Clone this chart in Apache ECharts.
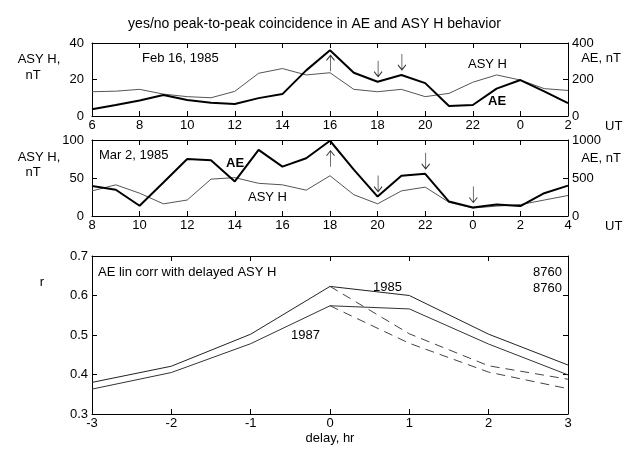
<!DOCTYPE html>
<html>
<head>
<meta charset="utf-8">
<script src="https://cdn.jsdelivr.net/npm/echarts@6/dist/echarts.min.js"></script>
<style>
html, body { margin: 0; padding: 0; background: #fff; }
#chart { width: 629px; height: 454px; }
</style>
</head>
<body>
<div id="chart"></div>
<script>
// Feb 16, 1985 (UT hours, 24.. = next day)
var hoursFeb = [6, 7, 8, 9, 10, 11, 12, 13, 14, 15, 16, 17, 18, 19, 20, 21, 22, 23, 24, 25, 26];
var aeFeb = [37, 60, 85, 115, 88, 73, 66, 98, 120, 250, 360, 237, 188, 225, 180, 55, 60, 150, 197, 135, 70];
var asyFeb = [13.3, 13.6, 14.6, 12, 10.6, 10, 13.5, 23.4, 26, 22.5, 23.7, 14.6, 13.3, 14.6, 10.6, 12.4, 18.5, 22.5, 19.7, 15, 14];
var upFeb = [16];
var downFeb = [18, 19];

// Mar 2, 1985
var hoursMar = [8, 9, 10, 11, 12, 13, 14, 15, 16, 17, 18, 19, 20, 21, 22, 23, 24, 25, 26, 27, 28];
var aeMar = [395, 345, 135, 440, 750, 735, 455, 870, 650, 760, 990, 610, 255, 530, 555, 190, 112, 150, 130, 300, 400];
var asyMar = [33, 41, 30, 16, 21, 48.5, 50.5, 43, 41, 34, 53, 28, 16, 33, 38, 18, 10.5, 13, 15, 21, 27];
var upMar = [18];
var downMar = [20, 22, 24];

// AE lin corr with delayed ASY H
var delays = [-3, -2, -1, 0, 1, 2, 3];
var r1985 = [0.380, 0.421, 0.502, 0.623, 0.600, 0.502, 0.424];
var r1987 = [0.363, 0.405, 0.478, 0.574, 0.566, 0.477, 0.399];
var delaysPos = [0, 1, 2, 3];
var r1985Mirror = [0.623, 0.503, 0.422, 0.388];
var r1987Mirror = [0.574, 0.479, 0.406, 0.364];

var FONT = 'Liberation Sans';

function pairs(xs, ys) {
    return xs.map(function (x, i) { return [x, ys[i]]; });
}
function pick(xs, ys, wanted) {
    return wanted.map(function (h) { return [h, ys[xs.indexOf(h)]]; });
}

var chart = echarts.init(document.getElementById('chart'));

var axisText = { color: '#000', fontFamily: FONT, fontSize: 13 };
var frameLine = { show: true, onZero: false, lineStyle: { color: '#000', width: 1 } };
var inTick = { show: true, inside: true, length: 5, lineStyle: { color: '#000' } };

function bottomX(grid, min, max, interval, fmt) {
    return {
        type: 'value', gridIndex: grid, position: 'bottom', min: min, max: max, interval: interval,
        axisLine: frameLine, axisTick: inTick, splitLine: { show: false },
        axisLabel: Object.assign({ margin: 3, formatter: fmt }, axisText)
    };
}
function topX(grid, min, max, interval) {
    return {
        type: 'value', gridIndex: grid, position: 'top', min: min, max: max, interval: interval,
        axisLine: frameLine, axisTick: inTick, splitLine: { show: false }, axisLabel: { show: false }
    };
}
function sideY(grid, pos, min, max, interval, labels, margin) {
    return {
        type: 'value', gridIndex: grid, position: pos, min: min, max: max, interval: interval,
        axisLine: frameLine, axisTick: inTick, splitLine: { show: false },
        axisLabel: Object.assign({ show: labels, margin: margin, formatter: function (v) { return String(+v.toFixed(2)); } }, axisText)
    };
}

function hourFmt(v) { return String(v % 24); }

// small arrows above/below the AE curve
function arrowSeries(xi, yi, data, dir, gap) {
    var path = dir === 'up'
        ? 'path://M4,16 L4,0 M0,5 L4,0 L8,5'
        : 'path://M4,0 L4,16 M0,11 L4,16 L8,11';
    return {
        type: 'scatter', xAxisIndex: xi, yAxisIndex: yi, data: data,
        symbol: path, symbolSize: [8, 16],
        symbolOffset: [0.5, dir === 'up' ? gap + 8 : -(gap + 8)],
        itemStyle: { color: 'rgba(0,0,0,0)', borderColor: '#000', borderWidth: 1 },
        silent: true, z: 5
    };
}

function txt(x, y, text, align, extra) {
    return {
        type: 'text', silent: true,
        style: Object.assign({
            x: x, y: y, text: text, fill: '#000', font: '13px "' + FONT + '"',
            textAlign: align || 'left', textVerticalAlign: 'middle',
            align: align || 'left', verticalAlign: 'middle'
        }, extra || {})
    };
}

var option = {
    animation: false,
    backgroundColor: '#fff',
    title: {
        text: 'yes/no peak-to-peak coincidence in AE and ASY H behavior',
        left: 'center', top: 12,
        textStyle: { fontFamily: FONT, fontSize: 14, fontWeight: 'normal', color: '#000' }
    },
    grid: [
        { left: 92, right: 61, top: 43, height: 73 },
        { left: 92, right: 61, top: 140, height: 76 },
        { left: 92, right: 61, top: 256, height: 158 }
    ],
    xAxis: [
        bottomX(0, 6, 26, 2, hourFmt),
        topX(0, 6, 26, 2),
        bottomX(1, 8, 28, 2, hourFmt),
        topX(1, 8, 28, 2),
        bottomX(2, -3, 3, 1, null),
        topX(2, -3, 3, 1)
    ],
    yAxis: [
        sideY(0, 'left', 0, 40, 20, true, 8),
        sideY(0, 'right', 0, 400, 200, true, 4),
        sideY(1, 'left', 0, 100, 50, true, 8),
        sideY(1, 'right', 0, 1000, 500, true, 4),
        sideY(2, 'left', 0.3, 0.7, 0.1, true, 4),
        sideY(2, 'right', 0.3, 0.7, 0.1, false, 4)
    ],
    series: [
        // panel 1
        { type: 'line', xAxisIndex: 0, yAxisIndex: 0, data: pairs(hoursFeb, asyFeb), symbol: 'none',
          lineStyle: { color: '#555', width: 1 }, silent: true },
        { type: 'line', xAxisIndex: 0, yAxisIndex: 1, data: pairs(hoursFeb, aeFeb), symbol: 'none',
          lineStyle: { color: '#000', width: 2 }, silent: true, z: 3 },
        arrowSeries(0, 1, pick(hoursFeb, aeFeb, upFeb), 'up', 5),
        arrowSeries(0, 1, pick(hoursFeb, aeFeb, downFeb), 'down', 5),
        // panel 2
        { type: 'line', xAxisIndex: 2, yAxisIndex: 2, data: pairs(hoursMar, asyMar), symbol: 'none',
          lineStyle: { color: '#555', width: 1 }, silent: true },
        { type: 'line', xAxisIndex: 2, yAxisIndex: 3, data: pairs(hoursMar, aeMar), symbol: 'none',
          lineStyle: { color: '#000', width: 2 }, silent: true, z: 3 },
        arrowSeries(2, 3, pick(hoursMar, aeMar, upMar), 'up', 10),
        arrowSeries(2, 3, pick(hoursMar, aeMar, downMar), 'down', 5),
        // panel 3
        { type: 'line', xAxisIndex: 4, yAxisIndex: 4, data: pairs(delays, r1985), symbol: 'none',
          lineStyle: { color: '#222', width: 1 }, silent: true },
        { type: 'line', xAxisIndex: 4, yAxisIndex: 4, data: pairs(delays, r1987), symbol: 'none',
          lineStyle: { color: '#333', width: 1 }, silent: true },
        { type: 'line', xAxisIndex: 4, yAxisIndex: 4, data: pairs(delaysPos, r1985Mirror), symbol: 'none',
          lineStyle: { color: '#444', width: 1, type: [9, 6] }, silent: true },
        { type: 'line', xAxisIndex: 4, yAxisIndex: 4, data: pairs(delaysPos, r1987Mirror), symbol: 'none',
          lineStyle: { color: '#444', width: 1, type: [9, 6] }, silent: true }
    ],
    graphic: [
        // panel 1 labels
        txt(39, 59, 'ASY H,', 'center'),
        txt(33, 75, 'nT', 'center'),
        txt(601, 58, 'AE, nT', 'center'),
        txt(605, 126, 'UT', 'left'),
        txt(142, 58, 'Feb 16, 1985', 'left'),
        txt(468, 64, 'ASY H', 'left'),
        txt(488, 101, 'AE', 'left', { font: 'bold 13px "' + FONT + '"' }),
        // panel 2 labels
        txt(39, 157, 'ASY H,', 'center'),
        txt(33, 172, 'nT', 'center'),
        txt(601, 158, 'AE, nT', 'center'),
        txt(605, 226, 'UT', 'left'),
        txt(99, 155, 'Mar 2, 1985', 'left'),
        txt(226, 163, 'AE', 'left', { font: 'bold 13px "' + FONT + '"' }),
        txt(248, 197, 'ASY H', 'left'),
        // panel 3 labels
        txt(42, 282, 'r', 'center'),
        txt(330, 438, 'delay, hr', 'center'),
        txt(98, 272, 'AE lin corr with delayed ASY H', 'left'),
        txt(562, 272, '8760', 'right'),
        txt(562, 288, '8760', 'right'),
        txt(373, 287, '1985', 'left'),
        txt(291, 335, '1987', 'left')
    ]
};

chart.setOption(option);
</script>
</body>
</html>
